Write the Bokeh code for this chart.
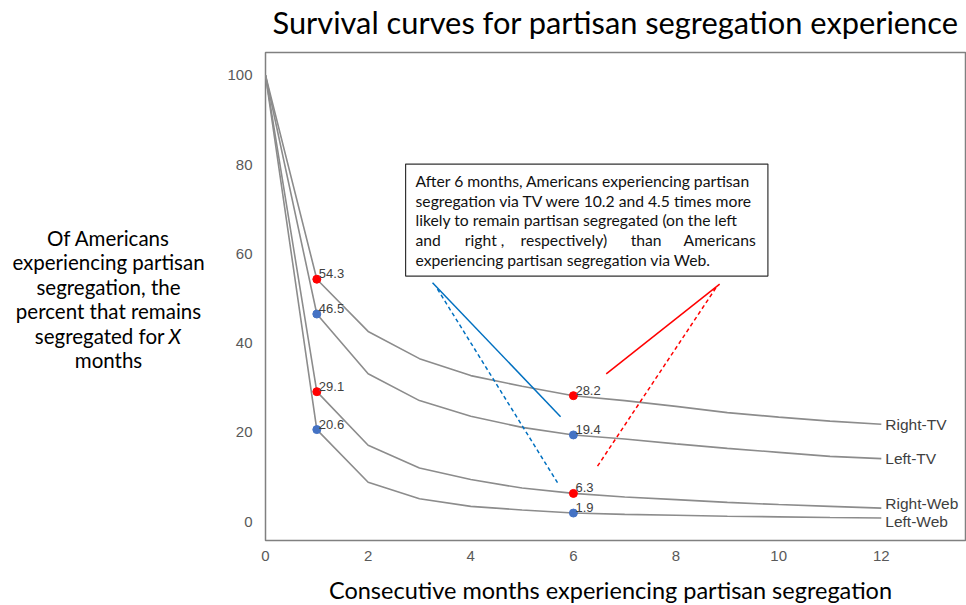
from bokeh.plotting import figure
from bokeh.models import Range1d, Label, BoxAnnotation, FixedTicker, ColumnDataSource
from bokeh.layouts import column, row
from bokeh.embed import file_html
from bokeh.resources import INLINE
from bokeh.core.properties import value

# ---------------- data ----------------
months = list(range(13))
right_tv = [100, 54.3, 42.6, 36.5, 32.7, 30.3, 28.2, 27.1, 25.8, 24.4, 23.4, 22.5, 21.8]
left_tv = [100, 46.5, 33.1, 27.1, 23.6, 21.1, 19.4, 18.5, 17.4, 16.4, 15.5, 14.6, 14.1]
right_web = [100, 29.1, 17.1, 12.0, 9.4, 7.5, 6.3, 5.5, 4.9, 4.3, 3.8, 3.4, 3.0]
left_web = [100, 20.6, 8.8, 5.1, 3.4, 2.6, 1.9, 1.6, 1.4, 1.2, 1.05, 0.9, 0.8]
series_names = ["Right-TV", "Left-TV", "Right-Web", "Left-Web"]
series_side = ["Right", "Left", "Right", "Left"]
highlight_months = [1, 6]
x_ticks = [0, 2, 4, 6, 8, 10, 12]
y_ticks = [0, 20, 40, 60, 80, 100]

title_text = "Survival curves for partisan segregation experience"
x_label = "Consecutive months experiencing partisan segregation"
y_label_lines = ["Of Americans", "experiencing partisan", "segregation, the",
                 "percent that remains", "segregated for", "months"]
note_lines = ["After 6 months, Americans experiencing partisan",
              "segregation via TV were 10.2 and 4.5 times more",
              "likely to remain partisan segregated (on the left",
              None,
              "experiencing partisan segregation via Web."]
note_line4_words = ["and", "right ,", "respectively)", "than", "Americans"]

# ---------------- styles ----------------
CURVE = "#8c8c8c"
RED = "#ff0000"
BLUE = "#4472c4"
LINE_BLUE = "#0070c0"
side_color = {"Right": RED, "Left": BLUE}
TXT_FONT = "Lato"


def text_panel(w, h):
    f = figure(width=w, height=h, output_backend="svg", toolbar_location=None,
               x_range=Range1d(0, w), y_range=Range1d(h, 0),
               min_border=0, x_axis_type=None, y_axis_type=None)
    f.outline_line_color = None
    f.grid.visible = False
    f.background_fill_color = "white"
    f.border_fill_color = "white"
    return f


# ---------------- main plot ----------------
p = figure(width=746, height=519, output_backend="svg", toolbar_location=None,
           x_range=Range1d(0, 13.66), y_range=Range1d(-4.25, 105.1),
           min_border_left=45, min_border_top=8, min_border_bottom=22, min_border_right=0)
p.background_fill_color = "white"
p.border_fill_color = "white"
p.outline_line_color = "#808080"
p.outline_line_width = 1.5
p.grid.visible = False

for ax in (p.xaxis[0], p.yaxis[0]):
    ax.axis_line_color = None
    ax.major_tick_line_color = None
    ax.minor_tick_line_color = None
    ax.major_label_text_font = "Liberation Sans"
    ax.major_label_text_font_size = "15px"
    ax.major_label_text_color = "#595959"
p.xaxis.ticker = FixedTicker(ticks=x_ticks)
p.yaxis.ticker = FixedTicker(ticks=y_ticks)
p.xaxis.major_label_standoff = 4
p.yaxis.major_label_standoff = 7

all_series = [right_tv, left_tv, right_web, left_web]

for vals in all_series:
    p.line(months, vals, line_color=CURVE, line_width=1.6)

# pointer lines (annotation connectors)
pointer_lines = [
    dict(x0=3.255, y0=53.5, x1=5.75, y1=23.5, color=LINE_BLUE, dash="solid"),
    dict(x0=3.35, y0=52.1, x1=5.69, y1=8.7, color=LINE_BLUE, dash="4 3"),
    dict(x0=6.64, y0=33.1, x1=8.85, y1=53.2, color=RED, dash="solid"),
    dict(x0=6.47, y0=12.4, x1=8.79, y1=52.6, color=RED, dash="4 3"),
]
for seg in pointer_lines:
    p.segment(x0=[seg["x0"]], y0=[seg["y0"]], x1=[seg["x1"]], y1=[seg["y1"]],
              line_color=seg["color"], line_width=1.5, line_dash=seg["dash"])

# highlighted points with value labels
for vals, side in zip(all_series, series_side):
    xs = highlight_months
    ys = [vals[m] for m in highlight_months]
    src = ColumnDataSource(dict(x=xs, y=ys, t=[f"{v:.1f}" for v in ys]))
    p.scatter("x", "y", source=src, size=8, fill_color=side_color[side],
              line_color=side_color[side])
    p.text("x", "y", text="t", source=src, x_offset=2, y_offset=-1,
           text_baseline="bottom", text_align="left",
           text_font=value("Liberation Sans"), text_font_size="13px", text_color="#404040")

# end labels
end_offsets = [0, 0, 5, -3.5]
for vals, name, off in zip(all_series, series_names, end_offsets):
    p.add_layout(Label(x=months[-1], y=vals[-1], text=name, x_offset=4, y_offset=off,
                       text_baseline="middle", text_align="left",
                       text_font="Liberation Sans", text_font_size="15.5px",
                       text_color="#404040"))

# note box
p.add_layout(BoxAnnotation(left=2.73, right=9.79, top=80.1, bottom=55.0,
                           fill_color="white", fill_alpha=1.0,
                           line_color="#333333", line_width=1.2, line_alpha=1.0))
note_y = [76.3, 71.9, 67.5, 63.1, 58.7]
NOTE_SIZE = "15.7px"
for txt, yy in zip(note_lines, note_y):
    if txt is not None:
        p.add_layout(Label(x=2.924, y=yy, text=txt, text_baseline="middle", text_align="left",
                           text_font=TXT_FONT, text_font_size=NOTE_SIZE, text_color="#111111"))
word_x = [2.924, 3.885, 4.971, 7.115, 9.552]
for i, (w, xx) in enumerate(zip(note_line4_words, word_x)):
    p.add_layout(Label(x=xx, y=note_y[3], text=w, text_baseline="middle",
                       text_align="right" if i == len(word_x) - 1 else "left",
                       text_font=TXT_FONT, text_font_size=NOTE_SIZE, text_color="#111111"))

# ---------------- title / axis titles as text panels ----------------
tp = text_panel(966, 44)
tp.text(x=[272], y=[22], text=[title_text], text_baseline="middle", text_align="left",
        text_font=value(TXT_FONT), text_font_size="30.8px", text_color="#000000")

yp = text_panel(220, 519)
ylab_y = [197, 223, 249, 275, 301, 327]
for i, (txt, yy) in enumerate(zip(y_label_lines, ylab_y)):
    if i == 4:
        yp.text(x=[164], y=[yy], text=[txt], text_baseline="middle", text_align="right",
                text_font=value(TXT_FONT), text_font_size="20.5px", text_color="#000000")
        yp.text(x=[168], y=[yy], text=["X"], text_baseline="middle", text_align="left",
                text_font=value(TXT_FONT), text_font_size="20.5px", text_font_style="italic",
                text_color="#000000")
    else:
        yp.text(x=[108], y=[yy], text=[txt], text_baseline="middle", text_align="center",
                text_font=value(TXT_FONT), text_font_size="20.5px", text_color="#000000")

xp = text_panel(966, 42)
xp.text(x=[610], y=[26], text=[x_label], text_baseline="middle", text_align="center",
        text_font=value(TXT_FONT), text_font_size="23.5px", text_color="#000000")

layout = column(tp, row(yp, p, spacing=0), xp, spacing=0)

open("out.html", "w").write(file_html(layout, INLINE))
